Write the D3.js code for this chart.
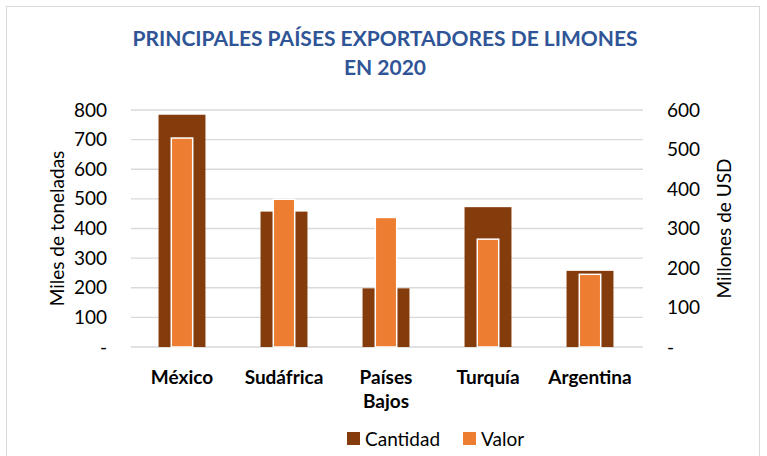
<!DOCTYPE html>
<html lang="es">
<head>
<meta charset="UTF-8">
<title>Principales países exportadores de limones en 2020</title>
<script src="https://d3js.org/d3.v7.min.js"></script>
<style>
  body { margin: 0; background: #fff; font-family: Lato, "Open Sans", sans-serif; }
  svg text { fill: #000; }
</style>
</head>
<body>
<div id="chart"></div>
<script>
const width = 767;
const height = 456;

// datos
const paises = ["México", "Sudáfrica", "Países Bajos", "Turquía", "Argentina"];
const cantidad = [784, 457, 198, 472, 257];   // miles de toneladas
const valor = [529, 374, 328, 273, 184];      // millones de USD
const ticksIzq = [0, 100, 200, 300, 400, 500, 600, 700, 800];
const ticksDer = [0, 100, 200, 300, 400, 500, 600];

const plot = { left: 131, right: 641, top: 110, bottom: 347 };

const svg = d3.select("#chart").append("svg")
    .attr("width", width)
    .attr("height", height);

svg.append("rect")
    .attr("x", 6.5).attr("y", 6.5)
    .attr("width", 753).attr("height", 460)
    .attr("fill", "#fff")
    .attr("stroke", "#d9d9d9");

const x = d3.scaleBand().domain(paises).range([plot.left, plot.right])
    .paddingInner(0.54).paddingOuter(0.27);
const xv = d3.scaleBand().domain(paises).range([plot.left, plot.right])
    .paddingInner(0.79).paddingOuter(0.395);
const yL = d3.scaleLinear().domain([0, 800]).range([plot.bottom, plot.top]);
const yR = d3.scaleLinear().domain([0, 600]).range([plot.bottom, plot.top]);

const fmt = d => d === 0 ? "-" : d3.format("d")(d);

// rejilla
svg.append("g")
    .selectAll("line")
    .data(ticksIzq)
    .join("line")
    .attr("x1", plot.left).attr("x2", plot.right + 2)
    .attr("y1", d => yL(d)).attr("y2", d => yL(d))
    .attr("stroke", "#d9d9d9")
    .attr("stroke-width", 1.3);

// eje izquierdo
const axL = svg.append("g")
    .attr("transform", `translate(${plot.left},0)`)
    .call(d3.axisLeft(yL).tickValues(ticksIzq).tickFormat(fmt).tickSize(0).tickPadding(24));
axL.select(".domain").remove();
axL.selectAll("text").attr("font-family", "Lato, sans-serif").attr("font-size", 19).attr("fill", "#000");

// eje derecho
const axR = svg.append("g")
    .attr("transform", `translate(${plot.right},0)`)
    .call(d3.axisRight(yR).tickValues(ticksDer).tickFormat(fmt).tickSize(0).tickPadding(26));
axR.select(".domain").remove();
axR.selectAll("text").attr("font-family", "Lato, sans-serif").attr("font-size", 19).attr("fill", "#000");

// barras Cantidad
svg.append("g")
    .selectAll("rect")
    .data(paises)
    .join("rect")
    .attr("x", d => x(d))
    .attr("width", x.bandwidth())
    .attr("y", (d, i) => yL(cantidad[i]))
    .attr("height", (d, i) => yL(0) - yL(cantidad[i]))
    .attr("fill", "#843c0c");

// barras Valor
svg.append("g")
    .selectAll("rect")
    .data(paises)
    .join("rect")
    .attr("x", d => xv(d))
    .attr("width", xv.bandwidth())
    .attr("y", (d, i) => yR(valor[i]))
    .attr("height", (d, i) => yR(0) - yR(valor[i]))
    .attr("fill", "#ed7d31")
    .attr("stroke", "#fff")
    .attr("stroke-width", 1.5);

// etiquetas de categorías
const cat = svg.append("g")
    .selectAll("text")
    .data(paises)
    .join("text")
    .attr("x", d => x(d) + x.bandwidth() / 2)
    .attr("y", 384)
    .attr("text-anchor", "middle")
    .attr("font-size", 19)
    .attr("font-weight", "bold");
cat.each(function (d) {
  const lines = d === "Países Bajos" ? ["Países", "Bajos"] : [d];
  d3.select(this).selectAll("tspan")
    .data(lines)
    .join("tspan")
    .attr("x", x(d) + x.bandwidth() / 2)
    .attr("dy", (l, i) => i === 0 ? 0 : 24)
    .text(l => l);
});

// títulos de ejes
svg.append("text")
    .attr("transform", `translate(64,${(plot.top + plot.bottom) / 2}) rotate(-90)`)
    .attr("text-anchor", "middle")
    .attr("font-size", 19)
    .text("Miles de toneladas");

svg.append("text")
    .attr("transform", `translate(731,${(plot.top + plot.bottom) / 2}) rotate(-90)`)
    .attr("text-anchor", "middle")
    .attr("font-size", 19)
    .text("Millones de USD");

// título
const titulo = svg.append("text")
    .attr("text-anchor", "middle")
    .attr("font-size", 21)
    .attr("font-weight", "bold")
    .style("fill", "#2f5597");
titulo.append("tspan").attr("x", 385).attr("y", 46).text("PRINCIPALES PAÍSES EXPORTADORES DE LIMONES");
titulo.append("tspan").attr("x", 385).attr("y", 75).text("EN 2020");

// leyenda
const leyenda = [
  { nombre: "Cantidad", color: "#843c0c", x: 347 },
  { nombre: "Valor", color: "#ed7d31", x: 463 }
];
const lg = svg.append("g")
    .selectAll("g")
    .data(leyenda)
    .join("g")
    .attr("transform", d => `translate(${d.x},432)`);
lg.append("rect").attr("width", 13).attr("height", 13).attr("fill", d => d.color);
lg.append("text").attr("x", 18).attr("y", 13.5).attr("font-size", 19).text(d => d.nombre);
</script>
</body>
</html>
